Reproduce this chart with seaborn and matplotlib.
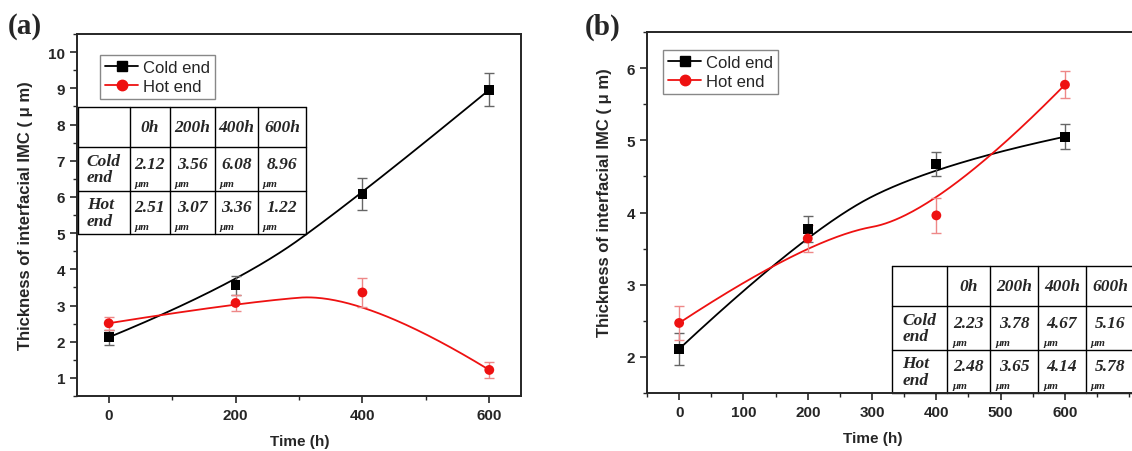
import numpy as np
import pandas as pd
import matplotlib
matplotlib.use("Agg")
import matplotlib.pyplot as plt
from matplotlib.lines import Line2D
from matplotlib.ticker import MultipleLocator
import seaborn as sns

# Data

hours = [0, 200, 400, 600]
series = ["Cold end", "Hot end"]

# panel (a)
cold_a = [2.12, 3.56, 6.08, 8.96]
cold_a_err = [0.21, 0.26, 0.43, 0.45]
hot_a = [2.51, 3.07, 3.36, 1.22]
hot_a_err = [0.18, 0.21, 0.41, 0.21]

# panel (b)
cold_b = [2.11, 3.77, 4.67, 5.05]
cold_b_err = [0.22, 0.18, 0.17, 0.17]
hot_b = [2.47, 3.64, 3.96, 5.77]
hot_b_err = [0.24, 0.19, 0.24, 0.19]

# inset tables
table_cols = ["0h", "200h", "400h", "600h"]
table_rows = ["Cold\nend", "Hot\nend"]
table_a = [["2.12", "3.56", "6.08", "8.96"],
           ["2.51", "3.07", "3.36", "1.22"]]
table_b = [["2.23", "3.78", "4.67", "5.16"],
           ["2.48", "3.65", "4.14", "5.78"]]

COLD = "black"
HOT = "#ee1111"
COLD_ERR = "#666666"
HOT_ERR = "#ee8888"


def bspline(x, y, n=120):
    # clamped quadratic B-spline with the data points as control points
    p = np.column_stack([x, y]).astype(float)
    anchors = [p[0]]
    for k in range(1, len(p) - 2):
        anchors.append((p[k] + p[k + 1]) / 2)
    anchors.append(p[-1])
    t = np.linspace(0, 1, n)[:, None]
    out = []
    for k in range(len(anchors) - 1):
        a, c, b = anchors[k], p[k + 1], anchors[k + 1]
        out.append((1 - t) ** 2 * a + 2 * t * (1 - t) * c + t ** 2 * b)
    out = np.vstack(out)
    return out[:, 0], out[:, 1]


def draw_table(ax, xs, ys, cols, rows, cells, fs=12.5):
    kw = dict(transform=ax.transAxes, color="black", lw=1.0, clip_on=False)
    for x in xs:
        ax.add_line(Line2D([x, x], [ys[-1], ys[0]], **kw))
    for y in ys:
        ax.add_line(Line2D([xs[0], xs[-1]], [y, y], **kw))
    tfont = dict(family="Liberation Serif", weight="bold", style="italic",
                 transform=ax.transAxes, clip_on=False)
    for j, c in enumerate(cols):
        ax.text((xs[j + 1] + xs[j + 2]) / 2, (ys[0] + ys[1]) / 2, c,
                ha="center", va="center", fontsize=fs, **tfont)
    for i, r in enumerate(rows):
        top, bot = ys[i + 1], ys[i + 2]
        ax.text(xs[0] + 0.02, (top + bot) / 2, r, ha="left", va="center",
                fontsize=fs, linespacing=1.05, **tfont)
        for j, v in enumerate(cells[i]):
            x0, x1 = xs[j + 1], xs[j + 2]
            ax.text((x0 + x1) / 2, top - (top - bot) * 0.38, v,
                    ha="center", va="center", fontsize=fs, **tfont)
            ax.text(x0 + 0.01, bot + (top - bot) * 0.17, "μm",
                    ha="left", va="center", fontsize=8, **tfont)


def draw_panel(ax, cold, cold_err, hot, hot_err):
    curves = []
    for name, vals in zip(series, [cold, hot]):
        cx, cy = bspline(hours, vals)
        curves.append(pd.DataFrame({"x": cx, "y": cy, "series": name}))
    curves = pd.concat(curves)
    sns.lineplot(data=curves, x="x", y="y", hue="series", sort=False,
                 estimator=None, palette=[COLD, HOT], lw=1.3,
                 legend=False, ax=ax)
    ax.errorbar(hours, cold, yerr=cold_err, fmt="none", ecolor=COLD_ERR,
                elinewidth=1.0, capsize=3.5, capthick=1.0, zorder=3)
    ax.errorbar(hours, hot, yerr=hot_err, fmt="none", ecolor=HOT_ERR,
                elinewidth=1.0, capsize=3.5, capthick=1.0, zorder=3)
    pts = pd.DataFrame({"x": hours * 2, "y": cold + hot,
                        "series": ["Cold end"] * 4 + ["Hot end"] * 4})
    sns.scatterplot(data=pts, x="x", y="y", hue="series", style="series",
                    markers=["s", "o"], palette=[COLD, HOT], s=50,
                    edgecolor="none", legend=False, zorder=4, ax=ax)


sns.set_style("ticks")
plt.rcParams["font.family"] = ["Liberation Sans", "DejaVu Sans"]
plt.rcParams["axes.linewidth"] = 1.4

fig = plt.figure(figsize=(11.32, 4.52), dpi=100)

ax_a = fig.add_axes([77 / 1132, 55 / 452, 444 / 1132, 362 / 452])
ax_b = fig.add_axes([647 / 1132, 58 / 452, 514.4 / 1132, 361 / 452])

draw_panel(ax_a, cold_a, cold_a_err, hot_a, hot_a_err)
draw_panel(ax_b, cold_b, cold_b_err, hot_b, hot_b_err)

ax_a.set_xlim(-50, 650)
ax_a.set_ylim(0.5, 10.5)
ax_a.xaxis.set_major_locator(MultipleLocator(200))
ax_a.xaxis.set_minor_locator(MultipleLocator(100))
ax_a.yaxis.set_major_locator(MultipleLocator(1))
ax_a.yaxis.set_minor_locator(MultipleLocator(0.5))

ax_b.set_xlim(-50, 750)
ax_b.set_ylim(1.5, 6.5)
ax_b.set_xticks([0, 100, 200, 300, 400, 500, 600])
ax_b.xaxis.set_minor_locator(MultipleLocator(50))
ax_b.yaxis.set_major_locator(MultipleLocator(1))
ax_b.yaxis.set_minor_locator(MultipleLocator(0.5))

handles = [
    Line2D([], [], color=COLD, lw=1.3, marker="s", markersize=7),
    Line2D([], [], color=HOT, lw=1.3, marker="o", markersize=7.5),
]

for ax in (ax_a, ax_b):
    for s in ax.spines.values():
        s.set_visible(True)
    ax.tick_params(which="major", direction="out", length=5, width=1.2,
                   labelsize=11)
    ax.tick_params(which="minor", direction="out", length=3, width=1.0)
    for lab in ax.get_xticklabels() + ax.get_yticklabels():
        lab.set_fontweight("bold")
    ax.set_xlabel("Time (h)", fontsize=11, fontweight="bold")
    ax.set_ylabel("Thickness of interfacial IMC ( μ m)", fontsize=12,
                  fontweight="bold")

ax_a.xaxis.set_label_coords(0.502, -0.105)
ax_a.yaxis.set_label_coords(-0.10, 0.5)
ax_b.xaxis.set_label_coords(0.439, -0.105)
ax_b.yaxis.set_label_coords(-0.068, 0.53)

ax_a.legend(handles, series, loc="upper left", bbox_to_anchor=(0.052, 0.942),
            borderaxespad=0, fontsize=12, frameon=True, fancybox=False,
            edgecolor="#888888", framealpha=1, handlelength=2.0,
            handletextpad=0.3, labelspacing=0.25, borderpad=0.3)
ax_b.legend(handles, series, loc="upper left", bbox_to_anchor=(0.031, 0.95),
            borderaxespad=0, fontsize=12, frameon=True, fancybox=False,
            edgecolor="#888888", framealpha=1, handlelength=2.0,
            handletextpad=0.3, labelspacing=0.25, borderpad=0.3)

draw_table(ax_a, [0.002, 0.119, 0.209, 0.311, 0.408, 0.516],
           [0.798, 0.688, 0.566, 0.448], table_cols, table_rows, table_a)
draw_table(ax_b, [0.476, 0.583, 0.667, 0.760, 0.853, 0.947],
           [0.352, 0.241, 0.119, 0.0], table_cols, table_rows, table_b)

fig.text(8 / 1132, 1 - 27 / 452, "(a)", fontsize=21, fontweight="bold",
         family="Liberation Serif", va="center", ha="left")
fig.text(585 / 1132, 1 - 27 / 452, "(b)", fontsize=21, fontweight="bold",
         family="Liberation Serif", va="center", ha="left")

fig.savefig("out.png", dpi=100)
